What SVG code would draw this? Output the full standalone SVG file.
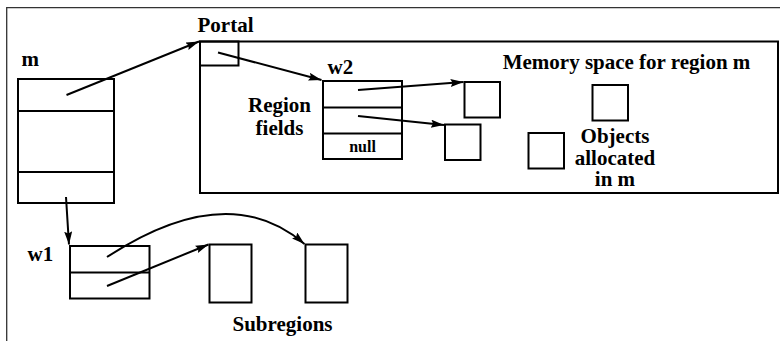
<svg xmlns="http://www.w3.org/2000/svg" width="780" height="341" viewBox="0 0 780 341">
<style>
.box{fill:none;stroke:#000;stroke-width:2}
.ln{fill:none;stroke:#000;stroke-width:2}
.t{font-family:"Liberation Serif","Times New Roman",serif;font-weight:bold;font-size:21px;fill:#000}
.s{font-size:16px}
.frame{stroke:#333;stroke-width:1.3;fill:none}
.c{text-anchor:middle}
</style>
<defs>
<marker id="ah" markerUnits="userSpaceOnUse" markerWidth="14" markerHeight="10" refX="13" refY="4" orient="auto">
<path d="M0,0 L13,4 L0,8 L2,4 z" fill="#000"/>
</marker>
</defs>
<path class="frame" d="M780,7.7 H6.7 V341"/>
<g id="connectors">
<line class="ln" x1="66.5" y1="95" x2="199" y2="41.5" marker-end="url(#ah)"/>
<line class="ln" x1="218" y1="52.5" x2="321.5" y2="80" marker-end="url(#ah)"/>
<line class="ln" x1="358" y1="90" x2="463.5" y2="82" marker-end="url(#ah)"/>
<line class="ln" x1="358" y1="116" x2="444" y2="125" marker-end="url(#ah)"/>
<line class="ln" x1="66" y1="197" x2="69" y2="244.5" marker-end="url(#ah)"/>
<path class="ln" d="M107,257 Q228,178 304.5,244" marker-end="url(#ah)"/>
<line class="ln" x1="107" y1="286" x2="208.5" y2="244.5" marker-end="url(#ah)"/>
</g>
<g id="m">
<text class="t" x="21.5" y="65.5">m</text>
<rect class="box" x="18" y="79" width="96" height="124"/>
<line class="ln" x1="18" y1="111" x2="114" y2="111"/>
<line class="ln" x1="18" y1="172" x2="114" y2="172"/>
</g>
<g id="memory">
<rect class="box" x="200" y="41.5" width="578" height="151.5"/>
<text class="t c" x="626.5" y="69">Memory space for region m</text>
</g>
<g id="portal">
<text class="t" x="197.5" y="31.5">Portal</text>
<rect class="box" x="200" y="41.5" width="38.5" height="24"/>
</g>
<g id="w2">
<text class="t" x="327.5" y="73.5">w2</text>
<text class="t c" x="279.5" y="111.5">Region</text>
<text class="t c" x="279.5" y="135">fields</text>
<rect class="box" x="323" y="81" width="79" height="78"/>
<line class="ln" x1="323" y1="107.5" x2="402" y2="107.5"/>
<line class="ln" x1="323" y1="133.5" x2="402" y2="133.5"/>
<text class="t s c" x="362.5" y="151.5">null</text>
</g>
<g id="obj1"><rect class="box" x="464.5" y="82" width="35.5" height="35.5"/></g>
<g id="obj2"><rect class="box" x="445" y="124.5" width="35.5" height="35.5"/></g>
<g id="obj3"><rect class="box" x="592.5" y="85" width="35.5" height="35.5"/></g>
<g id="obj4"><rect class="box" x="528.5" y="133" width="35.5" height="35.5"/></g>
<g id="objects-label">
<text class="t c" x="615" y="143">Objects</text>
<text class="t c" x="615" y="164.5">allocated</text>
<text class="t c" x="615" y="186">in m</text>
</g>
<g id="w1">
<text class="t" x="27.5" y="260.5">w1</text>
<rect class="box" x="70" y="246" width="79.5" height="52.5"/>
<line class="ln" x1="70" y1="272.5" x2="149.5" y2="272.5"/>
</g>
<g id="sub1"><rect class="box" x="209.5" y="244.5" width="42" height="58"/></g>
<g id="sub2"><rect class="box" x="305.5" y="244.5" width="42" height="58"/></g>
<g id="subregions-label"><text class="t c" x="282.5" y="331">Subregions</text></g>
</svg>
